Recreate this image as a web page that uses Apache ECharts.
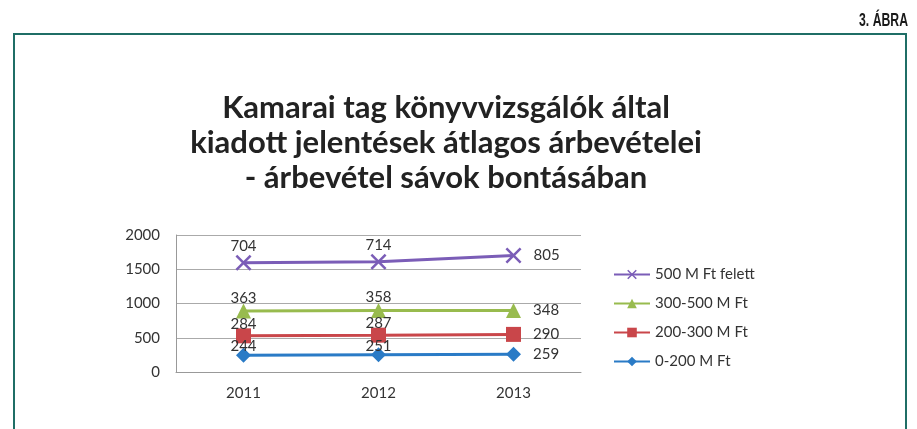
<!DOCTYPE html>
<html>
<head>
<meta charset="utf-8">
<script src="https://cdn.jsdelivr.net/npm/echarts@6/dist/echarts.min.js"></script>
<style>
html,body{margin:0;padding:0;background:#fff;}
#chart{width:917px;height:429px;}
</style>
</head>
<body>
<div id="chart"></div>
<script>
const categories = ['2011', '2012', '2013'];
const seriesNames = ['0-200 M Ft', '200-300 M Ft', '300-500 M Ft', '500 M Ft felett'];
const values0to200 = [244, 251, 259];
const values200to300 = [284, 287, 290];
const values300to500 = [363, 358, 348];
const valuesOver500 = [704, 714, 805];
const yTicks = [0, 500, 1000, 1500, 2000];
const titleLines = ['Kamarai tag könyvvizsgálók által', 'kiadott jelentések átlagos árbevételei', '- árbevétel sávok bontásában'];
const figureLabel = '3. ÁBRA';

const colors = ['#2a7bc6', '#c9464a', '#98bb4e', '#7b5db7'];
const symbols = ['diamond', 'rect', 'triangle', 'path://M0,1.1L1.1,0L5,3.9L8.9,0L10,1.1L6.1,5L10,8.9L8.9,10L5,6.1L1.1,10L0,8.9L3.9,5Z'];
const symbolSizes = [15, 15, 15, 16];
const labelDistances = [-6, -3, -2, 1];
const allValues = [values0to200, values200to300, values300to500, valuesOver500];

const font = 'Lato, "Open Sans", sans-serif';

function buildData(vals) {
  return vals.map((v, i) => {
    if (i === vals.length - 1) {
      return { value: v, label: { position: 'right', distance: 12 } };
    }
    return { value: v };
  });
}

const series = allValues.map((vals, k) => ({
  name: seriesNames[k],
  type: 'line',
  stack: 'total',
  data: buildData(vals),
  symbol: symbols[k],
  symbolSize: symbolSizes[k],
  lineStyle: { color: colors[k], width: 3 },
  itemStyle: { color: colors[k], opacity: 1 },
  label: {
    show: true, position: 'top', distance: labelDistances[k],
    color: '#333', fontSize: 15, fontFamily: font
  },
  emphasis: { disabled: true },
  animation: false,
  z: 10 - k
}));

const chart = echarts.init(document.getElementById('chart'));
chart.setOption({
  backgroundColor: '#fff',
  animation: false,
  graphic: [
    { type: 'rect', shape: { x: 14, y: 34, width: 892, height: 450 },
      style: { fill: 'none', stroke: '#1f6e66', lineWidth: 2 }, z: -1 },
    { type: 'text', x: 908, y: 12, scaleX: 0.68, originX: 0,
      style: { text: figureLabel, font: 'bold 18px "Liberation Sans", Arial, sans-serif', fill: '#1a1a1a', textAlign: 'right' } },
    { type: 'text', x: 446, y: 90,
      style: { text: titleLines.join('\n'), font: 'bold 31px ' + font, fill: '#222', textAlign: 'center', lineHeight: 35 } }
  ],
  grid: { left: 176, top: 235, right: 336, bottom: 57, containLabel: false },
  legend: {
    orient: 'vertical', left: 608, top: 262,
    data: seriesNames.slice().reverse(),
    itemWidth: 36, itemHeight: 12, itemGap: 14,
    textStyle: { color: '#333', fontSize: 15, fontFamily: font }
  },
  xAxis: {
    type: 'category', data: categories, boundaryGap: true,
    axisLine: { lineStyle: { color: '#999', width: 1 } },
    axisTick: { show: false },
    axisLabel: { color: '#333', fontSize: 15, fontFamily: font, margin: 14 }
  },
  yAxis: {
    type: 'value', min: yTicks[0], max: yTicks[yTicks.length - 1], interval: 500,
    axisLine: { show: true, lineStyle: { color: '#999', width: 1 } },
    axisTick: { show: false },
    splitLine: { lineStyle: { color: '#aaa', width: 1 } },
    axisLabel: { color: '#333', fontSize: 15, fontFamily: font, margin: 16, formatter: v => String(v) }
  },
  series: series
});
</script>
</body>
</html>
